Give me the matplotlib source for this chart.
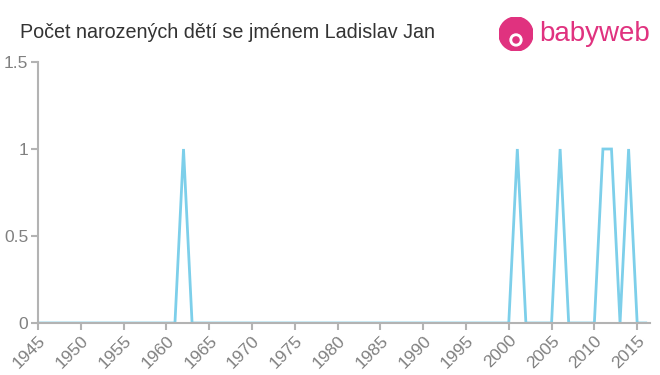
import matplotlib
matplotlib.use("Agg")
import matplotlib.pyplot as plt
from matplotlib.patches import Circle

years = list(range(1945, 2017))
ones = [1962, 2001, 2006, 2011, 2012, 2014]
counts = [1 if y in ones else 0 for y in years]
xticks = list(range(1945, 2016, 5))
yticks = [0, 0.5, 1, 1.5]
ytick_labels = ["0", "0.5", "1", "1.5"]

plt.rcParams['font.family'] = ['Liberation Sans', 'DejaVu Sans']
fig = plt.figure(figsize=(6.6, 3.75), dpi=100)
ax = fig.add_axes([38/660, 1-323/375, (650-38)/660, (323-62)/375])
ax.plot(years, counts, color='#7dcfea', lw=2, solid_joinstyle='miter')
ax.set_xlim(1945, 2016.5)
ax.set_ylim(0, 1.5)
ax.set_xticks(xticks)
ax.set_xticklabels([str(x) for x in xticks], rotation=45, ha='right', rotation_mode='anchor')
ax.set_yticks(yticks)
ax.set_yticklabels(ytick_labels)
for s in ['top', 'right']:
    ax.spines[s].set_visible(False)
for s in ['left', 'bottom']:
    ax.spines[s].set_color('#b3b3b3')
    ax.spines[s].set_linewidth(1.5)
ax.tick_params(colors='#b3b3b3', labelcolor='#808080', labelsize=12.5, length=5, width=1.5)
ax.tick_params(axis='x', pad=2)
ax.tick_params(axis='y', pad=2)

fig.text(20/660, 1-32/375, "Počet narozených dětí se jménem Ladislav Jan", fontsize=14.2,
         color='#333333', va='center', ha='left')
fig.text(539/660, 1-34/375, "babyweb", fontsize=20, color='#e0327f', va='center', ha='left')
logo_ax = fig.add_axes([499/660, 1-51/375, 34/660, 34/375])
logo_ax.set_xlim(-1, 1); logo_ax.set_ylim(-1, 1); logo_ax.set_aspect('equal'); logo_ax.axis('off')
logo_ax.add_patch(Circle((0, 0), 1, color='#e0327f'))
logo_ax.add_patch(Circle((0, -0.35), 0.35, color='white'))
logo_ax.add_patch(Circle((0, -0.35), 0.18, color='#e0327f'))

fig.savefig("out.png", dpi=100)
